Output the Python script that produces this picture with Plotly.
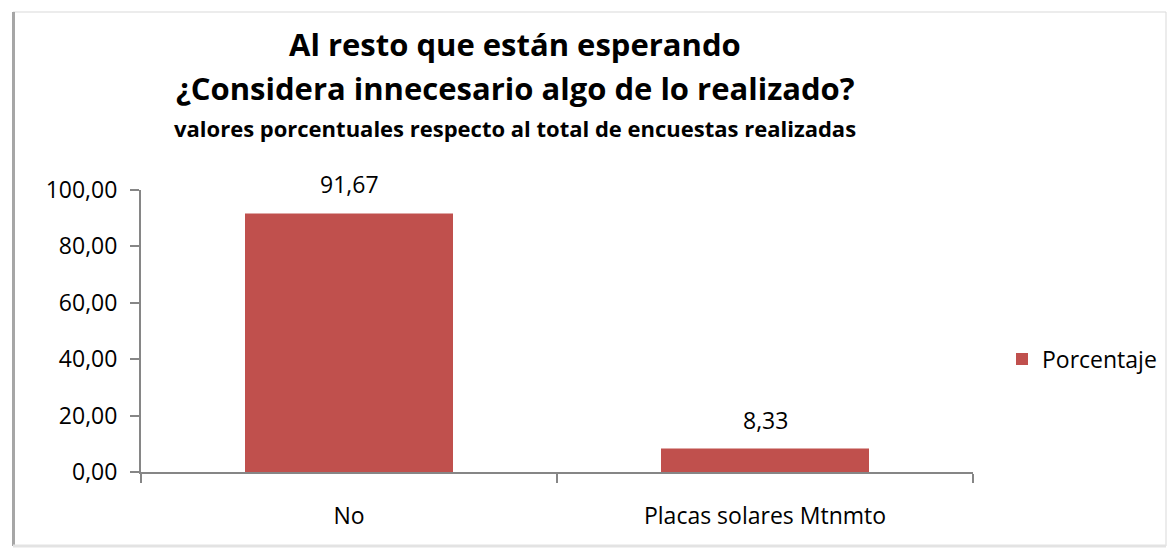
import plotly.graph_objects as go

categories = ["No", "Placas solares Mtnmto"]
porcentaje = [91.67, 8.33]
y_ticks = [0, 20, 40, 60, 80, 100]

W, H = 1168, 550
L, R, T, B = 141, 973, 190, 472  # plot area in pixels


def px_x(x):
    return (x - L) / (R - L)


def px_y(y):
    return (B - y) / (B - T)


FONT = "Open Sans"
BAR = "#C0504D"
AXIS = "#868686"

fig = go.Figure()
fig.add_trace(go.Bar(
    x=categories,
    y=porcentaje,
    name="Porcentaje",
    marker=dict(color=BAR, line=dict(width=0)),
    showlegend=True,
))

# value labels above each bar
for cat, val in zip(categories, porcentaje):
    fig.add_annotation(
        x=cat, y=val, xref="x", yref="y",
        text=f"{val:.2f}".replace(".", ","),
        showarrow=False, yanchor="bottom", yshift=11,
        font=dict(family=FONT, size=23, color="#000000"),
    )

fig.update_layout(
    width=W, height=H,
    margin=dict(l=L, r=W - R, t=T, b=H - B, pad=0, autoexpand=False),
    paper_bgcolor="white",
    plot_bgcolor="white",
    separators=",.",
    bargap=0.5,
    font=dict(family=FONT, color="#000000"),
    showlegend=True,
    legend=dict(
        x=px_x(1002), y=px_y(359), xanchor="left", yanchor="middle",
        font=dict(family=FONT, size=23, color="#000000"),
        itemwidth=30, bgcolor="rgba(0,0,0,0)",
    ),
    xaxis=dict(
        range=[-0.5, 1.5],
        showline=True, linecolor=AXIS, linewidth=2,
        ticks="outside", tickson="boundaries", ticklen=9, tickcolor=AXIS, tickwidth=2,
        tickfont=dict(family=FONT, size=23, color="#000000"),
        ticklabelstandoff=22,
        showgrid=False, zeroline=False,
    ),
    yaxis=dict(
        range=[0, 100],
        tickvals=y_ticks, tickformat=".2f",
        showline=True, linecolor=AXIS, linewidth=2,
        ticks="outside", ticklen=9, tickcolor=AXIS, tickwidth=2,
        tickfont=dict(family=FONT, size=23, color="#000000"),
        ticklabelstandoff=8,
        showgrid=False, zeroline=False,
    ),
)

titles = [
    ("Al resto que están esperando", 44, 31),
    ("¿Considera innecesario algo de lo realizado?", 88, 31),
    ("valores porcentuales respecto al total de encuestas realizadas", 128, 22),
]
for text, yc, size in titles:
    fig.add_annotation(
        text=f"<b>{text}</b>", x=px_x(515), y=px_y(yc),
        xref="paper", yref="paper", xanchor="center", yanchor="middle",
        showarrow=False, font=dict(family=FONT, size=size, color="#000000"),
    )

# chart frame
fig.add_shape(type="rect", xref="paper", yref="paper",
              x0=px_x(13), x1=px_x(1166), y0=px_y(546), y1=px_y(12),
              line=dict(color="#d9d9d9", width=1), layer="below")
fig.add_shape(type="line", xref="paper", yref="paper",
              x0=px_x(13.5), x1=px_x(13.5), y0=px_y(546), y1=px_y(12),
              line=dict(color="#a6a6a6", width=3))
fig.add_shape(type="line", xref="paper", yref="paper",
              x0=px_x(13), x1=px_x(1166), y0=px_y(546), y1=px_y(546),
              line=dict(color="#e3e3e3", width=3))

fig.write_html("out.html")
